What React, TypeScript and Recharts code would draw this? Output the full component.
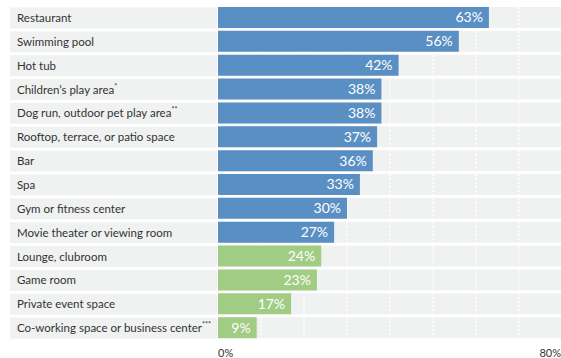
import { BarChart, Bar, XAxis, YAxis, Cell, LabelList } from 'recharts';

// Amenities, in display order
const categories = [
  'Restaurant',
  'Swimming pool',
  'Hot tub',
  'Children\u2019s play area',
  'Dog run, outdoor pet play area',
  'Rooftop, terrace, or patio space',
  'Bar',
  'Spa',
  'Gym or fitness center',
  'Movie theater or viewing room',
  'Lounge, clubroom',
  'Game room',
  'Private event space',
  'Co-working space or business center',
];
const footnotes = ['', '', '', '*', '**', '', '', '', '', '', '', '', '', '***'];
const shares = [63, 56, 42, 38, 38, 37, 36, 33, 30, 27, 24, 23, 17, 9];
const groups = ['top', 'top', 'top', 'top', 'top', 'top', 'top', 'top', 'top', 'top', 'low', 'low', 'low', 'low'];
const xTicks = [0, 80];

const BLUE = '#5a8fc4';
const GREEN = '#a1cc84';
const ROW_BG = '#f0f1f1';
const TEXT = '#333333';
const FONT = 'Lato, "Noto Sans", sans-serif';

const data = categories.map((name, i) => ({
  name,
  note: footnotes[i],
  value: shares[i],
  group: groups[i],
}));

// gray row band with dotted white guides every 10%
const RowBackground = (props: any) => {
  const { x, y, width, height } = props;
  const guides = [];
  for (let k = 1; k < 8; k++) {
    const gx = x + (width * k) / 8;
    guides.push(
      <line
        key={k}
        x1={gx}
        x2={gx}
        y1={y}
        y2={y + height}
        stroke="#ffffff"
        strokeWidth={1.5}
        strokeDasharray="2 2"
      />
    );
  }
  return (
    <g>
      <rect x={x} y={y} width={width} height={height} fill={ROW_BG} />
      {guides}
    </g>
  );
};

const CategoryTick = (props: any) => {
  const { y, payload, index } = props;
  const row = data[index] || data.find((d) => d.name === payload.value);
  return (
    <g>
      <rect x={10} y={y - 10.5} width={207} height={21} fill={ROW_BG} />
      <text x={17} y={y} dy={4} fill={TEXT} fontSize={11.5} fontFamily={FONT}>
        {payload.value}
        {row && row.note ? (
          <tspan fontSize={7} dy={-5}>
            {row.note}
          </tspan>
        ) : null}
      </text>
    </g>
  );
};

const PercentTick = (props: any) => {
  const { x, y, payload } = props;
  const last = payload.value === xTicks[xTicks.length - 1];
  return (
    <text
      x={last ? x - 1 : x}
      y={y}
      dy={9}
      textAnchor={last ? 'end' : 'start'}
      fill={TEXT}
      fontSize={11}
      fontFamily={FONT}
    >
      {payload.value}%
    </text>
  );
};

export default function App() {
  return (
    <div style={{ position: 'absolute', left: 0, top: 0, width: 561, height: 358, overflow: 'hidden', background: '#fff' }}>
      <BarChart
        width={563}
        height={358}
        data={data}
        layout="vertical"
        margin={{ top: 6, right: 1, bottom: 0, left: 0 }}
        barSize={21}
      >
        <XAxis
          type="number"
          domain={[0, 80]}
          ticks={xTicks}
          axisLine={false}
          tickLine={false}
          height={18}
          tick={<PercentTick />}
          interval={0}
        />
        <YAxis
          type="category"
          dataKey="name"
          width={218}
          axisLine={false}
          tickLine={false}
          tick={<CategoryTick />}
          interval={0}
        />
        <Bar dataKey="value" isAnimationActive={false} background={<RowBackground />}>
          {data.map((d, i) => (
            <Cell key={`cell-${i}`} fill={d.group === 'top' ? BLUE : GREEN} />
          ))}
          <LabelList
            dataKey="value"
            position="insideRight"
            offset={6}
            formatter={(v: any) => `${v}%`}
            fill="#ffffff"
            fontSize={14}
            fontFamily={FONT}
          />
        </Bar>
      </BarChart>
    </div>
  );
}
